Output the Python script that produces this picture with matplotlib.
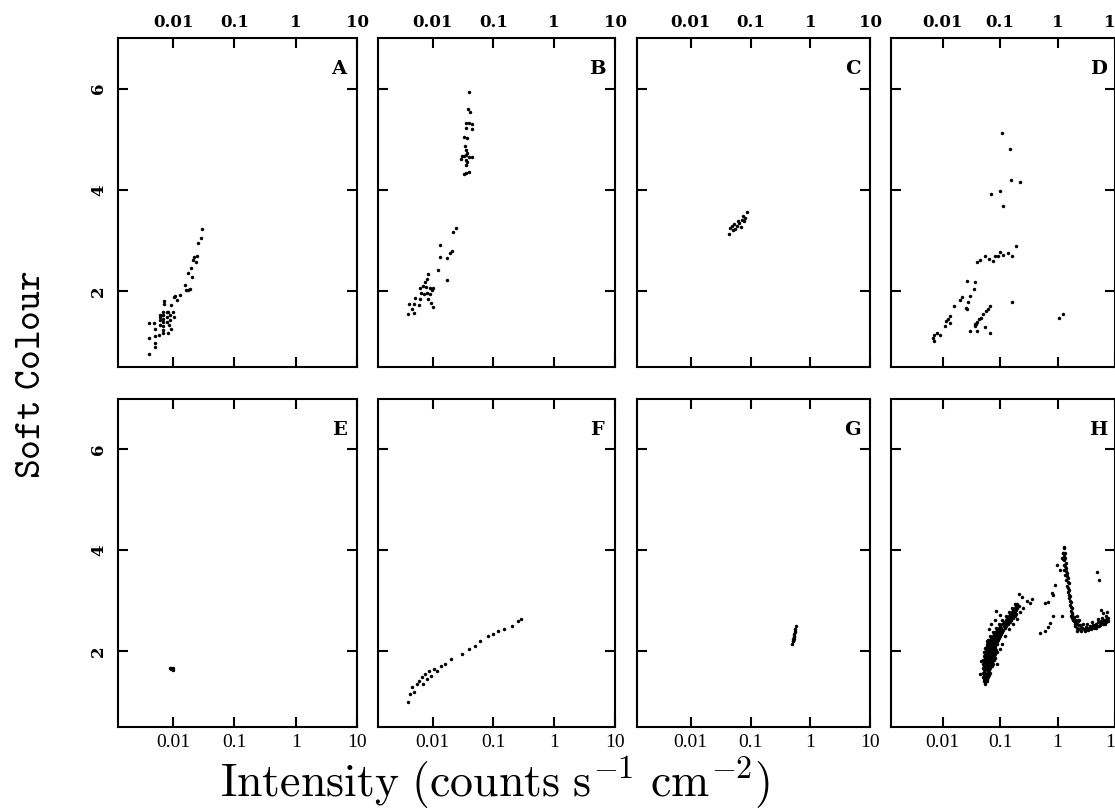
import numpy as np
import matplotlib
matplotlib.use("Agg")
import matplotlib.pyplot as plt
from matplotlib.ticker import NullLocator

plt.rcParams['mathtext.fontset'] = 'cm'

# Soft colour vs. intensity for eight sources (pairs of intensity, colour)
panel_a = [(0.0041, 0.75), (0.0041, 1.07), (0.0041, 1.36), (0.0049, 1.36), (0.0051, 1.26),
           (0.0051, 1.12), (0.0051, 0.98), (0.0051, 0.89), (0.0058, 1.13), (0.0060, 1.53),
           (0.0060, 1.43), (0.0060, 1.33), (0.0061, 1.48), (0.0069, 1.59), (0.0069, 1.52),
           (0.0069, 1.45), (0.0069, 1.38), (0.0069, 1.31), (0.0069, 1.24), (0.0069, 1.17),
           (0.0071, 1.81), (0.0071, 1.74), (0.0079, 1.59), (0.0079, 1.49), (0.0079, 1.39),
           (0.0082, 1.17), (0.0084, 1.59), (0.0086, 1.33), (0.0089, 1.43), (0.0089, 1.53),
           (0.0092, 1.72), (0.0092, 1.26), (0.0099, 1.59), (0.0104, 1.49), (0.0104, 1.89),
           (0.0108, 1.90), (0.0115, 1.82), (0.0130, 1.92), (0.0157, 2.12), (0.0163, 2.03),
           (0.0172, 2.03), (0.0190, 2.05), (0.0178, 2.35), (0.0195, 2.45), (0.0202, 2.28),
           (0.0207, 2.61), (0.0215, 2.68), (0.0232, 2.58), (0.0244, 2.69), (0.0253, 2.95),
           (0.0284, 3.04), (0.0295, 3.22)]

panel_b = [(0.0394, 5.93), (0.0384, 5.59), (0.0409, 5.54), (0.0351, 5.33), (0.0399, 5.33),
           (0.0436, 5.31), (0.0351, 5.22), (0.0436, 5.20), (0.0325, 5.04), (0.0374, 5.02),
           (0.0338, 4.87), (0.0360, 4.79), (0.0305, 4.66), (0.0330, 4.67), (0.0360, 4.69),
           (0.0374, 4.72), (0.0399, 4.65), (0.0436, 4.65), (0.0298, 4.61), (0.0360, 4.59),
           (0.0374, 4.56), (0.0360, 4.49), (0.0330, 4.32), (0.0360, 4.34), (0.0399, 4.36),
           (0.0246, 3.25), (0.0217, 3.16), (0.0134, 2.91), (0.0134, 2.68), (0.0173, 2.65),
           (0.0191, 2.76), (0.0211, 2.79), (0.0122, 2.41), (0.0173, 2.22), (0.0084, 2.33),
           (0.0081, 2.24), (0.0074, 2.17), (0.0069, 2.10), (0.0077, 2.09), (0.0089, 2.07),
           (0.0099, 2.03), (0.0061, 2.07), (0.0065, 1.97), (0.0072, 1.95), (0.0082, 1.97),
           (0.0091, 1.94), (0.0101, 2.07), (0.0052, 1.87), (0.0061, 1.85), (0.0059, 1.72),
           (0.0084, 1.84), (0.0093, 1.76), (0.0101, 1.69), (0.0041, 1.74), (0.0039, 1.54),
           (0.0049, 1.74), (0.0049, 1.57), (0.0046, 1.64)]

panel_c = [(0.0441, 3.12), (0.0458, 3.25), (0.0489, 3.29), (0.0536, 3.33), (0.0557, 3.23),
           (0.0610, 3.38), (0.0651, 3.35), (0.0695, 3.27), (0.0723, 3.41), (0.0760, 3.48),
           (0.0791, 3.38), (0.0822, 3.44), (0.0879, 3.56), (0.0501, 3.20), (0.0586, 3.29)]

panel_d = [(0.109, 5.12), (0.146, 4.81), (0.156, 4.20), (0.218, 4.15), (0.070, 3.92),
           (0.101, 3.97), (0.112, 3.69), (0.191, 2.89), (0.163, 2.70), (0.137, 2.76),
           (0.112, 2.72), (0.098, 2.77), (0.092, 2.69), (0.080, 2.69), (0.075, 2.59),
           (0.064, 2.64), (0.054, 2.69), (0.044, 2.61), (0.040, 2.57), (0.037, 2.18),
           (0.0265, 2.20), (0.035, 2.05), (0.0295, 1.91), (0.022, 1.89), (0.0198, 1.83),
           (0.0251, 1.67), (0.0265, 1.64), (0.0272, 1.78), (0.0155, 1.70), (0.0136, 1.51),
           (0.0124, 1.44), (0.0113, 1.41), (0.0108, 1.31), (0.0132, 1.37), (0.0089, 1.14),
           (0.0080, 1.18), (0.0070, 1.14), (0.0068, 1.08), (0.0070, 1.01), (0.0675, 1.70),
           (0.0614, 1.65), (0.0560, 1.61), (0.0502, 1.54), (0.0471, 1.47), (0.0428, 1.44),
           (0.0401, 1.39), (0.0361, 1.34), (0.0361, 1.31), (0.0386, 1.35), (0.0295, 1.21),
           (0.0401, 1.21), (0.0545, 1.30), (0.0656, 1.18), (0.163, 1.78), (1.08, 1.47),
           (1.24, 1.54)]

panel_e = [(0.0088, 1.66), (0.0092, 1.65), (0.0096, 1.64), (0.0100, 1.63), (0.0094, 1.67),
           (0.0098, 1.66)]

panel_f = [(0.0040, 1.00), (0.0042, 1.15), (0.0046, 1.30), (0.0050, 1.20), (0.0055, 1.35),
           (0.0060, 1.42), (0.0066, 1.50), (0.0070, 1.36), (0.0076, 1.55), (0.0082, 1.45),
           (0.0088, 1.60), (0.0095, 1.52), (0.0105, 1.65), (0.0118, 1.60), (0.0135, 1.70),
           (0.0160, 1.75), (0.0200, 1.85), (0.0300, 1.95), (0.0400, 2.05), (0.0500, 2.10),
           (0.0600, 2.20), (0.0800, 2.30), (0.1000, 2.35), (0.1200, 2.40), (0.1500, 2.45),
           (0.2000, 2.50), (0.2500, 2.60), (0.2800, 2.65)]

panel_g = [(0.50, 2.15), (0.51, 2.20), (0.52, 2.25), (0.53, 2.30), (0.54, 2.35), (0.55, 2.40),
           (0.56, 2.45), (0.57, 2.50), (0.52, 2.20), (0.54, 2.28), (0.56, 2.38), (0.53, 2.24)]

panel_h = [
    # dense low-intensity branch
    (0.055, 1.35), (0.052, 1.42), (0.058, 1.42), (0.050, 1.50), (0.055, 1.50), (0.061, 1.50),
    (0.050, 1.58), (0.055, 1.58), (0.061, 1.58), (0.067, 1.58), (0.050, 1.66), (0.056, 1.66),
    (0.062, 1.66), (0.068, 1.66), (0.050, 1.74), (0.056, 1.74), (0.062, 1.74), (0.069, 1.74),
    (0.076, 1.74), (0.051, 1.82), (0.057, 1.82), (0.063, 1.82), (0.070, 1.82), (0.077, 1.82),
    (0.052, 1.90), (0.058, 1.90), (0.064, 1.90), (0.071, 1.90), (0.079, 1.90), (0.053, 1.98),
    (0.059, 1.98), (0.065, 1.98), (0.072, 1.98), (0.080, 1.98), (0.088, 1.98), (0.055, 2.06),
    (0.061, 2.06), (0.067, 2.06), (0.074, 2.06), (0.082, 2.06), (0.058, 2.14), (0.064, 2.14),
    (0.071, 2.14), (0.078, 2.14), (0.087, 2.14), (0.062, 2.22), (0.068, 2.22), (0.075, 2.22),
    (0.083, 2.22), (0.092, 2.22), (0.068, 2.30), (0.075, 2.30), (0.083, 2.30), (0.092, 2.30),
    (0.100, 2.30), (0.075, 2.38), (0.083, 2.38), (0.092, 2.38), (0.100, 2.38), (0.110, 2.38),
    (0.085, 2.46), (0.095, 2.46), (0.105, 2.46), (0.120, 2.46), (0.095, 2.54), (0.110, 2.54),
    (0.120, 2.54), (0.135, 2.54), (0.110, 2.62), (0.125, 2.62), (0.140, 2.62), (0.155, 2.62),
    (0.125, 2.70), (0.140, 2.70), (0.160, 2.70), (0.180, 2.70), (0.140, 2.78), (0.160, 2.78),
    (0.180, 2.78), (0.160, 2.86), (0.180, 2.86), (0.200, 2.86), (0.180, 2.94), (0.200, 2.94),
    (0.054, 1.39), (0.053, 1.46), (0.059, 1.46), (0.052, 1.54), (0.058, 1.54), (0.064, 1.54),
    (0.053, 1.62), (0.059, 1.62), (0.065, 1.62), (0.053, 1.70), (0.059, 1.70), (0.065, 1.70),
    (0.072, 1.70), (0.053, 1.78), (0.060, 1.78), (0.066, 1.78), (0.073, 1.78), (0.054, 1.86),
    (0.060, 1.86), (0.067, 1.86), (0.074, 1.86), (0.082, 1.86), (0.055, 1.94), (0.061, 1.94),
    (0.068, 1.94), (0.075, 1.94), (0.083, 1.94), (0.057, 2.02), (0.063, 2.02), (0.070, 2.02),
    (0.078, 2.02), (0.085, 2.02), (0.060, 2.10), (0.066, 2.10), (0.073, 2.10), (0.081, 2.10),
    (0.064, 2.18), (0.071, 2.18), (0.079, 2.18), (0.088, 2.18), (0.070, 2.26), (0.078, 2.26),
    (0.087, 2.26), (0.096, 2.26), (0.078, 2.34), (0.087, 2.34), (0.096, 2.34), (0.105, 2.34),
    (0.090, 2.42), (0.100, 2.42), (0.112, 2.42), (0.100, 2.50), (0.115, 2.50), (0.128, 2.50),
    (0.118, 2.58), (0.132, 2.58), (0.146, 2.58), (0.132, 2.66), (0.150, 2.66), (0.170, 2.66),
    (0.150, 2.74), (0.170, 2.74), (0.190, 2.74), (0.170, 2.82), (0.190, 2.82), (0.190, 2.90),
    (0.210, 2.90),
    # scatter around it
    (0.045, 1.55), (0.047, 1.80), (0.090, 1.75), (0.100, 2.05), (0.110, 2.15), (0.065, 2.45),
    (0.070, 2.55), (0.080, 2.62), (0.120, 2.30), (0.140, 2.45), (0.170, 2.55), (0.200, 2.65),
    (0.220, 2.78), (0.250, 2.85), (0.210, 3.13), (0.240, 3.07), (0.290, 2.99), (0.330, 2.96),
    (0.360, 3.03), (0.100, 2.72), (0.085, 2.80), (0.060, 2.20),
    # sparse bridge towards the peak
    (0.50, 2.36), (0.61, 2.41), (0.67, 2.48), (0.74, 2.56), (0.84, 2.69), (0.69, 2.98),
    (0.80, 3.15), (0.91, 3.31), (0.61, 2.95), (0.84, 3.12), (1.10, 3.62), (0.98, 3.72),
    (1.19, 3.85), (1.24, 3.95),
    # steep strand down from the peak
    (1.32, 4.07), (1.30, 4.05), (1.25, 3.95), (1.28, 3.88), (1.22, 3.82), (1.32, 3.80),
    (1.27, 3.72), (1.35, 3.70), (1.30, 3.62), (1.40, 3.60), (1.35, 3.52), (1.45, 3.50),
    (1.42, 3.42), (1.50, 3.38), (1.48, 3.30), (1.55, 3.25), (1.52, 3.18), (1.60, 3.12),
    (1.58, 3.05), (1.65, 3.00), (1.62, 2.92), (1.70, 2.88), (1.68, 2.80), (1.75, 2.76),
    (1.72, 2.70), (1.80, 2.66), (1.85, 2.62), (1.19, 2.69), (2.16, 2.40),
    (1.36, 3.95), (1.33, 3.85), (1.38, 3.75), (1.42, 3.66), (1.47, 3.56), (1.52, 3.45),
    (1.56, 3.35), (1.60, 3.22), (1.65, 3.10), (1.70, 2.98), (1.75, 2.85), (1.80, 2.74),
    (1.90, 2.68), (1.95, 2.60), (2.05, 2.55),
    # high-intensity flat band
    (2.0, 2.58), (2.0, 2.50), (2.1, 2.62), (2.2, 2.55), (2.2, 2.47), (2.35, 2.52), (2.4, 2.44),
    (2.6, 2.48), (2.6, 2.41), (2.85, 2.45), (3.0, 2.40), (3.1, 2.48), (3.4, 2.43), (3.6, 2.50),
    (3.8, 2.45), (4.1, 2.52), (4.3, 2.46), (4.6, 2.55), (4.8, 2.50), (5.1, 2.58), (5.4, 2.52),
    (5.8, 2.60), (6.1, 2.55), (6.5, 2.63), (6.9, 2.58), (7.3, 2.66), (7.5, 2.60), (1.95, 2.68),
    (2.3, 2.60), (2.8, 2.55), (3.3, 2.55), (4.0, 2.58), (5.0, 2.64), (6.0, 2.66), (7.0, 2.70),
    (2.5, 2.53), (2.7, 2.47), (3.2, 2.44), (3.5, 2.47), (3.9, 2.50), (4.4, 2.52), (4.7, 2.47),
    (5.2, 2.50), (5.6, 2.56), (6.3, 2.58), (6.7, 2.55), (7.1, 2.62), (7.6, 2.66), (2.15, 2.70),
    (2.4, 2.62),
    (4.9, 3.58), (5.3, 3.42), (5.6, 2.81), (6.3, 2.75), (7.2, 2.78),
]

panels = [panel_a, panel_b, panel_c, panel_d, panel_e, panel_f, panel_g, panel_h]
letters = ['A', 'B', 'C', 'D', 'E', 'F', 'G', 'H']
xticks = [0.01, 0.1, 1, 10]
xtick_labels = ['0.01', '0.1', '1', '10']
yticks = [2, 4, 6]

W, H = 1115, 810
fig = plt.figure(figsize=(W / 100, H / 100), dpi=100)

# pixel boxes (left, width) of the columns, (top, bottom) of the rows
cols = [(118, 239), (378, 237), (637, 233), (891, 224)]
rows = [(38, 367), (399, 727)]

for i, pts in enumerate(panels):
    r, c = divmod(i, 4)
    left, width = cols[c]
    top, bottom = rows[r]
    ax = fig.add_axes([left / W, 1 - bottom / H, width / W, (bottom - top) / H])
    pts = np.array(pts)
    ax.plot(pts[:, 0], pts[:, 1], 'o', ms=2.5, mew=0, color='k')

    ax.set_xscale('log')
    ax.set_xlim(1.26e-3, 10)
    ax.set_ylim(0.5, 7)
    ax.xaxis.set_minor_locator(NullLocator())
    ax.yaxis.set_minor_locator(NullLocator())
    for s in ax.spines.values():
        s.set_linewidth(1.5)

    if r == 0:
        ax.set_xticks(xticks, xtick_labels, fontfamily='DejaVu Serif',
                      fontweight='bold', fontsize=12)
    else:
        ax.set_xticks(xticks, xtick_labels, fontfamily='Liberation Serif', fontsize=14)
    ax.set_yticks(yticks, [str(v) for v in yticks], fontfamily='DejaVu Serif',
                  fontweight='bold', fontsize=12, rotation=90, va='center')

    ax.tick_params(axis='x', which='both', direction='in', length=7, width=1.5,
                   top=True, bottom=True, labeltop=(r == 0), labelbottom=(r == 1), pad=5)
    ax.tick_params(axis='y', which='both', direction='in', length=7, width=1.5,
                   left=True, right=True, labelleft=(c == 0), labelright=False, pad=8)

    ax.text(0.925, 0.905, letters[i], transform=ax.transAxes, ha='center', va='center',
            fontfamily='DejaVu Serif', fontweight='bold', fontsize=14)

fig.text(30 / W, 1 - 375 / H, r'$\mathtt{Soft\ Colour}$', rotation=90,
         ha='center', va='center', fontsize=27)
fig.text(495 / W, 1 - 783 / H, r'$\mathrm{Intensity\ (counts\ s^{-1}\ cm^{-2})}$',
         ha='center', va='center', fontsize=33)

fig.savefig('out.png', dpi=100)
